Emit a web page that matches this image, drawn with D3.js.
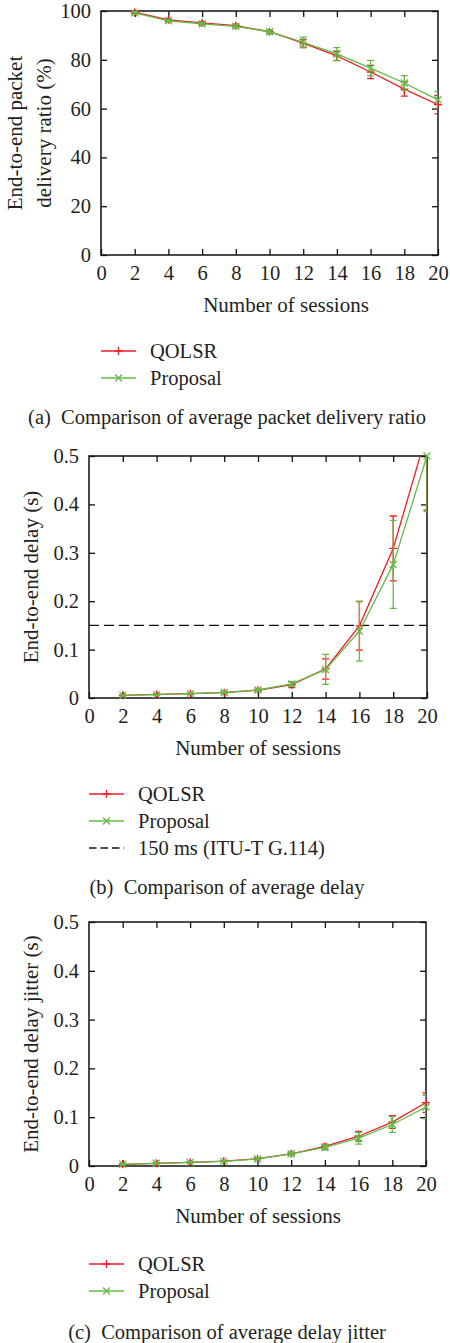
<!DOCTYPE html>
<html>
  <head>
    <meta charset="utf-8">
    <title>QOLSR vs Proposal</title>
    <script src="https://cdnjs.cloudflare.com/ajax/libs/d3/7.8.5/d3.min.js"></script>
    <style>
      body { margin: 0; background: #fff; }
      text { fill: #231f20; }
    </style>
  </head>
  <body>
    <div id="chart"></div>
    <script type="text/javascript">
      // number of sessions on every x axis
      var sessions = [2, 4, 6, 8, 10, 12, 14, 16, 18, 20];
      var xTicks = [0, 2, 4, 6, 8, 10, 12, 14, 16, 18, 20];

      // (a) packet delivery ratio, %
      var pdrQolsr = [99.5, 96.4, 95.1, 94.0, 91.5, 86.8, 81.6, 75.0, 68.0, 61.6];
      var pdrQolsrErr = [0.5, 0.6, 0.6, 0.6, 0.8, 1.6, 1.9, 2.7, 2.9, 3.8];
      var pdrProposal = [99.2, 96.0, 94.7, 93.7, 91.5, 87.1, 82.4, 76.6, 70.5, 63.6];
      var pdrProposalErr = [0.5, 0.6, 0.6, 0.6, 0.8, 2.2, 2.6, 3.2, 3.0, 3.4];
      var pdrTicks = [0, 20, 40, 60, 80, 100];

      // (b) end-to-end delay, s
      var delayQolsr = [0.0055, 0.0075, 0.009, 0.011, 0.016, 0.0275, 0.060, 0.149, 0.309, 0.548];
      var delayQolsrErr = [0.001, 0.001, 0.001, 0.002, 0.002, 0.006, 0.021, 0.050, 0.067, 0.16];
      var delayProposal = [0.0055, 0.007, 0.009, 0.0115, 0.0165, 0.029, 0.059, 0.138, 0.276, 0.5];
      var delayProposalErr = [0.001, 0.001, 0.001, 0.002, 0.002, 0.005, 0.031, 0.062, 0.091, 0.115];
      var delayLimit = 0.15;

      // (c) delay jitter, s
      var jitterQolsr = [0.0035, 0.0055, 0.0075, 0.010, 0.015, 0.025, 0.040, 0.061, 0.090, 0.130];
      var jitterQolsrErr = [0.001, 0.001, 0.001, 0.001, 0.002, 0.003, 0.005, 0.010, 0.013, 0.020];
      var jitterProposal = [0.0035, 0.0055, 0.0075, 0.0095, 0.0145, 0.025, 0.038, 0.057, 0.085, 0.121];
      var jitterProposalErr = [0.001, 0.001, 0.001, 0.001, 0.002, 0.003, 0.005, 0.012, 0.016, 0.024];
      var secTicks = [0, 0.1, 0.2, 0.3, 0.4, 0.5];

      var red = "#ee1c24";
      var green = "#62bb46";
      var serif = "'Liberation Serif', 'Times New Roman', serif";

      var svg = d3.select("#chart").append("svg")
        .attr("width", 450)
        .attr("height", 1343);

      function drawPanel(p) {
        var g = svg.append("g");
        var x = d3.scaleLinear().domain([0, 20]).range([p.left, p.right]);
        var y = d3.scaleLinear().domain([0, p.yMax]).range([p.bottom, p.top]);

        g.append("clipPath").attr("id", p.id)
          .append("rect")
          .attr("x", p.left).attr("y", p.top)
          .attr("width", p.right - p.left).attr("height", p.bottom - p.top);

        // inward ticks on all four sides, gnuplot style
        var fmt = d3.format("~g");
        g.append("g").attr("transform", "translate(0," + p.bottom + ")")
          .call(d3.axisBottom(x).tickValues(xTicks).tickSize(-6).tickSizeOuter(0).tickPadding(10))
        g.append("g").attr("transform", "translate(0," + p.top + ")")
          .call(d3.axisTop(x).tickValues(xTicks.slice(1, -1)).tickSize(-6).tickSizeOuter(0).tickFormat(""))
        g.append("g").attr("transform", "translate(" + p.left + ",0)")
          .call(d3.axisLeft(y).tickValues(p.yTicks).tickSize(-6).tickSizeOuter(0).tickPadding(10).tickFormat(fmt))
        g.append("g").attr("transform", "translate(" + p.right + ",0)")
          .call(d3.axisRight(y).tickValues(p.yTicks).tickSize(-6).tickSizeOuter(0).tickFormat(""))
        g.selectAll(".domain").remove();
        g.selectAll(".tick line").attr("stroke", "#111").attr("stroke-width", 1.3);
        g.selectAll(".tick text").attr("font-size", 20.5).attr("fill", "#231f20")
          .attr("font-family", serif);

        g.append("rect")
          .attr("x", p.left).attr("y", p.top)
          .attr("width", p.right - p.left).attr("height", p.bottom - p.top)
          .attr("fill", "none").attr("stroke", "#111").attr("stroke-width", 1.5);

        if (p.limit !== undefined) {
          g.append("line")
            .attr("x1", p.left).attr("x2", p.right)
            .attr("y1", y(p.limit)).attr("y2", y(p.limit))
            .attr("stroke", "#111").attr("stroke-width", 1.2)
            .attr("stroke-dasharray", "10,5");
        }

        var line = d3.line()
          .x(function(d) { return x(d[0]); })
          .y(function(d) { return y(d[1]); });

        p.series.forEach(function(s) {
          var pts = sessions.map(function(n, i) { return [n, s.values[i], s.errors[i]]; });
          var sg = g.append("g").attr("clip-path", "url(#" + p.id + ")");
          sg.append("path")
            .datum(pts)
            .attr("d", line)
            .attr("fill", "none")
            .attr("stroke", s.color)
            .attr("stroke-width", 1.3);
          pts.forEach(function(d) {
            var lo = y(d[1] - d[2]), hi = y(d[1] + d[2]), cx = x(d[0]);
            sg.append("path")
              .attr("d", "M" + cx + "," + lo + "V" + hi +
                "M" + (cx - 3.5) + "," + lo + "H" + (cx + 3.5) +
                "M" + (cx - 3.5) + "," + hi + "H" + (cx + 3.5))
              .attr("fill", "none")
              .attr("stroke", s.color)
              .attr("stroke-width", 1.3);
          });
          g.selectAll(null)
            .data(pts.filter(function(d) { return d[1] <= p.yMax; }))
            .enter()
            .append("path")
            .attr("transform", function(d) { return "translate(" + x(d[0]) + "," + y(d[1]) + ")"; })
            .attr("d", s.marker)
            .attr("fill", "none")
            .attr("stroke", s.color)
            .attr("stroke-width", 1.3);
        });

        // axis titles
        g.append("text")
          .attr("x", p.xTitleX)
          .attr("y", p.bottom + 50)
          .attr("dy", "0.35em")
          .attr("text-anchor", "middle")
          .attr("font-family", serif)
          .attr("font-size", 21)
          .text("Number of sessions");

        p.yTitle.forEach(function(t, i) {
          g.append("text")
            .attr("transform", "translate(" + p.yTitleX[i] + "," + (p.top + p.bottom) / 2 + ") rotate(-90)")
            .attr("text-anchor", "middle")
            .attr("font-family", serif)
            .attr("font-size", 21)
            .text(t);
        });

        // legend
        p.legend.forEach(function(item, i) {
          var ly = p.legendY + i * 27;
          var lx = p.left;
          g.append("line")
            .attr("x1", lx).attr("x2", lx + 35)
            .attr("y1", ly).attr("y2", ly)
            .attr("stroke", item.color)
            .attr("stroke-width", 1.3)
            .attr("stroke-dasharray", item.dash || null);
          if (item.marker) {
            g.append("path")
              .attr("transform", "translate(" + (lx + 17.5) + "," + ly + ")")
              .attr("d", item.marker)
              .attr("fill", "none")
              .attr("stroke", item.color)
              .attr("stroke-width", 1.3);
          }
          g.append("text")
            .attr("x", lx + 49)
            .attr("y", ly)
            .attr("dy", "0.35em")
            .attr("font-family", serif)
            .attr("font-size", 20.5)
            .text(item.label);
        });

        g.append("text")
          .attr("x", 227)
          .attr("y", p.captionY)
          .attr("dy", "0.35em")
          .attr("text-anchor", "middle")
          .attr("font-family", serif)
          .attr("font-size", 20.5)
          .style("white-space", "pre")
          .text(p.caption);
      }

      var plus = "M-4,0H4M0,-4V4";
      var cross = "M-3.5,-3.5L3.5,3.5M-3.5,3.5L3.5,-3.5";

      var qolsrItem = { label: "QOLSR", color: red, marker: plus };
      var proposalItem = { label: "Proposal", color: green, marker: cross };

      drawPanel({
        id: "clipA", left: 101, right: 438, top: 11, bottom: 255,
        yMax: 100, yTicks: pdrTicks, xTitleX: 286,
        yTitle: ["End-to-end packet", "delivery ratio (%)"], yTitleX: [22, 51],
        series: [
          { values: pdrQolsr, errors: pdrQolsrErr, color: red, marker: plus },
          { values: pdrProposal, errors: pdrProposalErr, color: green, marker: cross }
        ],
        legend: [qolsrItem, proposalItem], legendY: 351,
        caption: "(a)  Comparison of average packet delivery ratio", captionY: 417
      });

      drawPanel({
        id: "clipB", left: 89, right: 427, top: 456, bottom: 698,
        yMax: 0.5, yTicks: secTicks, limit: delayLimit, xTitleX: 258,
        yTitle: ["End-to-end delay (s)"], yTitleX: [38],
        series: [
          { values: delayQolsr, errors: delayQolsrErr, color: red, marker: plus },
          { values: delayProposal, errors: delayProposalErr, color: green, marker: cross }
        ],
        legend: [qolsrItem, proposalItem, { label: "150 ms (ITU-T G.114)", color: "#111", dash: "7.5,4" }], legendY: 794,
        caption: "(b)  Comparison of average delay", captionY: 887
      });

      drawPanel({
        id: "clipC", left: 89, right: 426, top: 922, bottom: 1166,
        yMax: 0.5, yTicks: secTicks, xTitleX: 258,
        yTitle: ["End-to-end delay jitter (s)"], yTitleX: [38],
        series: [
          { values: jitterQolsr, errors: jitterQolsrErr, color: red, marker: plus },
          { values: jitterProposal, errors: jitterProposalErr, color: green, marker: cross }
        ],
        legend: [qolsrItem, proposalItem], legendY: 1264,
        caption: "(c)  Comparison of average delay jitter", captionY: 1332
      });
    </script>
  </body>
</html>
